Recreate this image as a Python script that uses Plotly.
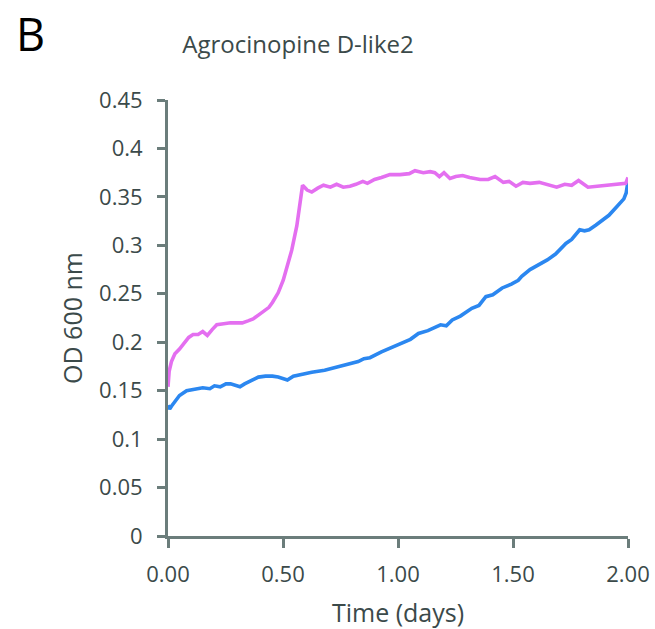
import plotly.graph_objects as go

# Pink series (days, OD600)
pink_days = [0.00, 0.005, 0.015, 0.03, 0.05, 0.07, 0.09, 0.109, 0.131, 0.151, 0.171, 0.192,
             0.212, 0.242, 0.272, 0.303, 0.323, 0.348, 0.370, 0.393, 0.414, 0.439, 0.454,
             0.479, 0.501, 0.514, 0.538, 0.560, 0.574, 0.585, 0.605, 0.625, 0.651, 0.676,
             0.706, 0.733, 0.762, 0.791, 0.817, 0.847, 0.867, 0.898, 0.928, 0.965, 1.009,
             1.049, 1.074, 1.110, 1.140, 1.160, 1.180, 1.200, 1.226, 1.251, 1.281, 1.311,
             1.357, 1.392, 1.422, 1.458, 1.483, 1.513, 1.543, 1.574, 1.614, 1.654, 1.690,
             1.725, 1.755, 1.785, 1.826, 1.866, 1.922, 1.955, 1.990, 2.000]
pink_od = [0.154, 0.170, 0.180, 0.188, 0.193, 0.199, 0.205, 0.208, 0.208, 0.211, 0.207, 0.213,
           0.218, 0.219, 0.220, 0.220, 0.220, 0.222, 0.224, 0.228, 0.232, 0.236, 0.241,
           0.251, 0.264, 0.275, 0.295, 0.320, 0.344, 0.362, 0.357, 0.355, 0.359, 0.362,
           0.360, 0.363, 0.360, 0.361, 0.363, 0.366, 0.364, 0.368, 0.370, 0.373, 0.373,
           0.374, 0.377, 0.375, 0.376, 0.375, 0.371, 0.375, 0.369, 0.371, 0.372, 0.370,
           0.368, 0.368, 0.371, 0.365, 0.366, 0.361, 0.365, 0.364, 0.365, 0.362, 0.360,
           0.363, 0.362, 0.367, 0.360, 0.361, 0.362, 0.363, 0.364, 0.370]

# Blue series (days, OD600)
blue_days = [0.00, 0.007, 0.015, 0.03, 0.05, 0.081, 0.111, 0.151, 0.182, 0.202, 0.227, 0.252,
             0.272, 0.293, 0.313, 0.333, 0.358, 0.393, 0.424, 0.454, 0.479, 0.499, 0.519,
             0.545, 0.580, 0.625, 0.681, 0.726, 0.767, 0.797, 0.827, 0.852, 0.878, 0.928,
             0.968, 1.019, 1.054, 1.089, 1.130, 1.185, 1.210, 1.236, 1.271, 1.321, 1.352,
             1.382, 1.412, 1.453, 1.493, 1.523, 1.538, 1.574, 1.614, 1.649, 1.685, 1.730,
             1.755, 1.790, 1.811, 1.831, 1.861, 1.891, 1.917, 1.952, 1.982, 1.992, 1.998, 2.000]
blue_od = [0.135, 0.131, 0.134, 0.139, 0.145, 0.150, 0.151, 0.153, 0.152, 0.155, 0.154, 0.157,
           0.157, 0.155, 0.154, 0.157, 0.160, 0.164, 0.165, 0.165, 0.164, 0.162, 0.161,
           0.165, 0.167, 0.169, 0.171, 0.174, 0.176, 0.178, 0.180, 0.183, 0.184, 0.190,
           0.194, 0.199, 0.203, 0.209, 0.212, 0.218, 0.217, 0.223, 0.227, 0.235, 0.238,
           0.247, 0.249, 0.256, 0.260, 0.264, 0.268, 0.275, 0.280, 0.285, 0.291, 0.302,
           0.306, 0.316, 0.315, 0.316, 0.321, 0.326, 0.331, 0.340, 0.348, 0.354, 0.360, 0.366]

x_ticks = [0, 0.5, 1.0, 1.5, 2.0]
y_ticks = [0, 0.05, 0.1, 0.15, 0.2, 0.25, 0.3, 0.35, 0.4, 0.45]
y_tick_text = ["0", "0.05", "0.1", "0.15", "0.2", "0.25", "0.3", "0.35", "0.4", "0.45"]

AXIS_COL = "#6b7d7b"
TEXT_COL = "#3b4a4a"
FONT = "Open Sans"

fig = go.Figure()
fig.add_trace(go.Scatter(x=blue_days, y=blue_od, mode="lines",
                         line=dict(color="#2b87f0", width=3.6), showlegend=False))
fig.add_trace(go.Scatter(x=pink_days, y=pink_od, mode="lines",
                         line=dict(color="#e46ff0", width=3.6), showlegend=False))

fig.update_layout(
    width=655, height=629,
    margin=dict(l=168, r=27, t=100, b=93),
    paper_bgcolor="white", plot_bgcolor="white",
    font=dict(family=FONT, color=TEXT_COL),
    title=dict(text="Agrocinopine D-like2", x=298 / 655, xref="container",
               xanchor="center", y=1 - 45 / 629, yanchor="middle",
               font=dict(size=24, color=TEXT_COL, family=FONT)),
    annotations=[dict(text="B", xref="paper", yref="paper", showarrow=False,
                      x=(30 - 168) / 460, y=(536 - 1) / 436, xanchor="center", yanchor="top",
                      font=dict(size=45, color="black", family=FONT))],
)

fig.update_xaxes(
    range=[0, 2], tickvals=x_ticks, tickformat=".2f", automargin=False,
    showgrid=False, zeroline=False,
    showline=True, linecolor=AXIS_COL, linewidth=3,
    ticks="outside", ticklen=9, tickwidth=3, tickcolor=AXIS_COL,
    tickfont=dict(size=22, color=TEXT_COL, family=FONT), ticklabelstandoff=8,
    title=dict(text="Time (days)", font=dict(size=25, color=TEXT_COL, family=FONT), standoff=22),
)
fig.update_yaxes(
    range=[0, 0.45], tickvals=y_ticks, ticktext=y_tick_text, automargin=False,
    showgrid=False, zeroline=False,
    showline=True, linecolor=AXIS_COL, linewidth=3,
    ticks="outside", ticklen=8, tickwidth=3, tickcolor=AXIS_COL,
    tickfont=dict(size=22, color=TEXT_COL, family=FONT), ticklabelstandoff=10,
    title=dict(text="OD 600 nm", font=dict(size=25, color=TEXT_COL, family=FONT), standoff=10),
)

fig.write_html("out.html", config={"displayModeBar": False},
               post_script="document.body.style.margin='0';document.body.style.overflow='hidden';")
